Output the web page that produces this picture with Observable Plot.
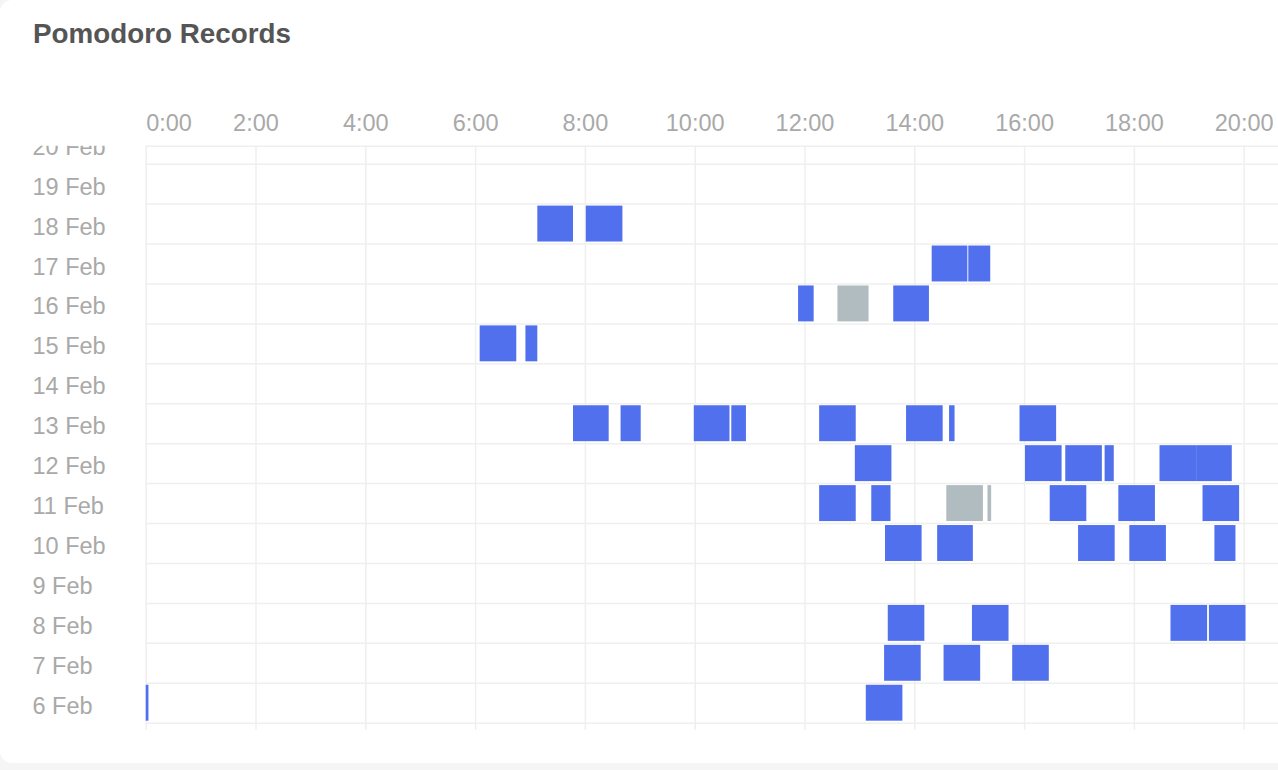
<!DOCTYPE html>
<html><head><meta charset="utf-8">
<script src="https://cdn.jsdelivr.net/npm/d3@7"></script>
<script src="https://cdn.jsdelivr.net/npm/@observablehq/plot@0.6"></script>
<style>
html,body{margin:0;padding:0;background:#f5f5f6;overflow:hidden;width:1278px;height:770px}
#card{position:absolute;left:0;top:0;width:1310px;height:763px;background:#fff;border-radius:12px}
#title{position:absolute;left:33px;top:20px;margin:0;font:bold 27.8px "Liberation Sans",Arial,sans-serif;line-height:28px;color:#555}
#chart{position:absolute;left:0;top:80px}
</style></head><body>
<div id="card"></div>
<h2 id="title">Pomodoro Records</h2>
<div id="chart"></div>
<script>
// Pomodoro records: day of February, start, end, status
const recDay = [
  18,18,
  17,17,
  16,16,16,
  15,15,
  13,13,13,13,13,13,13,13,
  12,12,12,12,12,12,
  11,11,11,11,11,11,11,
  10,10,10,10,10,
  8,8,8,8,
  7,7,7,
  6,6
];
const recStart = [
  "7:08","8:01",
  "14:19","14:59",
  "11:53","12:36","13:37",
  "6:05","6:55",
  "7:47","8:39","9:59","10:40","12:16","13:51","14:38","15:55",
  "12:55","16:01","16:45","17:28","18:28","19:08",
  "12:16","13:13","14:35","15:20","16:28","17:43","19:15",
  "13:28","14:25","16:59","17:55","19:28",
  "13:31","15:03","18:40","19:22",
  "13:27","14:32","15:47",
  "0:00","13:07"
];
const recEnd = [
  "7:47","8:41",
  "14:58","15:23",
  "12:10","13:10","14:16",
  "6:45","7:08",
  "8:26","9:01","10:38","10:56","12:56","14:31","14:44","16:35",
  "13:35","16:41","17:25","17:38","19:08","19:47",
  "12:56","13:34","15:15","15:24","17:08","18:23","19:55",
  "14:08","15:04","17:39","18:35","19:51",
  "14:11","15:43","19:20","20:02",
  "14:07","15:12","16:27",
  "0:03","13:47"
];
const recStatus = [
  "done","done",
  "done","done",
  "done","interrupted","done",
  "done","done",
  "done","done","done","done","done","done","done","done",
  "done","done","done","done","done","done",
  "done","done","interrupted","interrupted","done","done","done",
  "done","done","done","done","done",
  "done","done","done","done",
  "done","done","done",
  "done","done"
];
const statusNames = ["done","interrupted"];
const statusColors = ["#5070ee","#b1bcc1"];
const hourTicks = [0,2,4,6,8,10,12,14,16,18,20];
const dayTicks = [6,7,8,9,10,11,12,13,14,15,16,17,18,19,20];
const monthLabel = "Feb";

const toH = s => { const [h,m] = s.split(":").map(Number); return h + m/60; };
const records = recDay.map((d,i) => ({day:d, start:toH(recStart[i]), end:toH(recEnd[i]), status:recStatus[i]}));

const gridColor = "#efefef";
const labelColor = "#a9a9a9";
const fmt = d => `${d}:00`;

const plot = Plot.plot({
  width: 1278,
  height: 683,
  marginLeft: 145.7,
  marginRight: 0,
  marginTop: 65.7,
  marginBottom: 40.3,
  style: {fontFamily: '"Liberation Sans", Arial, sans-serif', background: "transparent"},
  x: {domain: [0, 20.625]},
  y: {domain: [5.5, 19.95]},
  color: {domain: statusNames, range: statusColors},
  marks: [
    Plot.gridX({ticks: hourTicks, stroke: gridColor, strokeOpacity: 1, strokeWidth: 1.5}),
    Plot.gridY({ticks: dayTicks.map(d => d - 0.5), stroke: gridColor, strokeOpacity: 1, strokeWidth: 1.5}),
    Plot.frame({anchor: "top", stroke: gridColor, strokeWidth: 1.5}),
    Plot.axisX({anchor: "bottom", ticks: hourTicks, tickSize: 7, tickFormat: () => "", stroke: gridColor, strokeWidth: 1.5, label: null}),
    Plot.rect(records, {x1: "start", x2: "end", y1: d => d.day - 0.5, y2: d => d.day + 0.5, fill: "status", insetTop: 2, insetBottom: 2}),
    Plot.axisX({anchor: "top", ticks: hourTicks.slice(1), tickSize: 0, tickPadding: 15, tickFormat: fmt, fill: labelColor, fontSize: 23.5, label: null}),
    Plot.axisX({anchor: "top", ticks: hourTicks.slice(0,1), tickSize: 0, tickPadding: 15, tickFormat: fmt, textAnchor: "start", fill: labelColor, fontSize: 23.5, label: null}),
    Plot.axisY({ticks: dayTicks, tickSize: 0, tickPadding: 113.7, textAnchor: "start", tickFormat: d => `${d} ${monthLabel}`, fill: labelColor, fontSize: 23.5, dy: 3, label: null})
  ]
});
document.getElementById("chart").appendChild(plot);

// clip y labels to the plotting area (top is cut like a scrolled panel)
const svg = d3.select(plot);
const defs = svg.append("defs");
defs.append("clipPath").attr("id", "yclip").append("rect")
  .attr("x", 0).attr("y", 65.7).attr("width", 145.7).attr("height", 683 - 65.7);
const wrap = svg.append("g").attr("clip-path", "url(#yclip)");
svg.selectAll('g[aria-label="y-axis tick label"]').each(function() { wrap.node().appendChild(this); });
</script>
</body></html>
